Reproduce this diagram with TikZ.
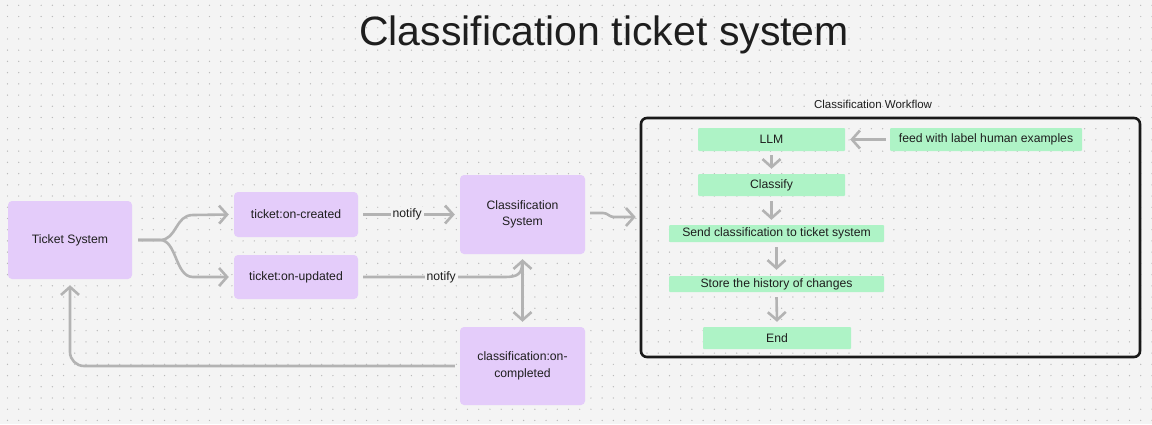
\documentclass[tikz,border=0pt]{standalone}
\usepackage{fontspec}
\setmainfont{Liberation Sans}
\usetikzlibrary{arrows.meta}
\definecolor{bgc}{HTML}{F4F4F4}
\definecolor{dotc}{HTML}{BABABA}
\definecolor{purp}{HTML}{E4CCFA}
\definecolor{grn}{HTML}{AEF3C6}
\definecolor{arrc}{HTML}{B3B3B3}
\definecolor{txt}{HTML}{1E1E1E}
\tikzset{
  pbox/.style={fill=purp, rounded corners=4pt, inner sep=0pt, text=txt, align=center,
    font=\fontsize{12.2}{16.5}\selectfont},
  gbox/.style={fill=grn, rounded corners=1pt, inner sep=0pt, text=txt, align=center,
    font=\fontsize{12.2}{14}\selectfont},
  tipx/.tip={Straight Barb[length=8pt,width=18pt]},
  arr/.style={draw=arrc, line width=2.6pt, -tipx},
  darr/.style={draw=arrc, line width=2.6pt, tipx-tipx},
  plain/.style={draw=arrc, line width=2.6pt},
  lbl/.style={fill=bgc, inner sep=2pt, text=txt, font=\fontsize{12.2}{14}\selectfont},
}
\begin{document}
\begin{tikzpicture}[x=1pt,y=-1pt]
\useasboundingbox (0,0) rectangle (1152,424);
\fill[bgc] (0,0) rectangle (1152,424);
\foreach \i in {0,...,102} {
  \foreach \j in {0,...,37} {
    \fill[dotc] ({7.5+11.22*\i},{5.3+11.22*\j}) circle (0.7);
  }
}
% title
\node[anchor=base, text=txt, font=\fontsize{41}{48}\selectfont, inner sep=0pt] (title) at (604,45) {Classification ticket system};

% left nodes
\node[pbox, minimum width=124pt, minimum height=78pt] (ts) at (70,240) {Ticket System};
\node[pbox, minimum width=124pt, minimum height=45pt] (oc) at (296,214.5) {ticket:on-created};
\node[pbox, minimum width=124pt, minimum height=44pt] (ou) at (296,277) {ticket:on-updated};
\node[pbox, minimum width=125pt, minimum height=79pt] (cs) at (522.5,214.5) {Classification\\System};
\node[pbox, minimum width=125pt, minimum height=78pt] (cc) at (522.5,366) {classification:on-\\completed};

% workflow frame
\node[draw=black!90, line width=2.6pt, rounded corners=6pt, minimum width=499pt, minimum height=239pt, inner sep=0pt] (wf) at (890.5,237.5) {};
\node[text=txt, font=\fontsize{11.5}{13}\selectfont, inner sep=0pt] (wfl) at (873,104) {Classification Workflow};

\node[gbox, minimum width=147pt, minimum height=23pt] (llm) at (771.5,139.5) {LLM};
\node[gbox, minimum width=192pt, minimum height=23pt] (feed) at (986,139.5) {feed with label human examples};
\node[gbox, minimum width=147pt, minimum height=22pt] (cl) at (771.5,185) {Classify};
\node[gbox, minimum width=215pt, minimum height=17pt] (snd) at (776.5,233.5) {Send classification to ticket system};
\node[gbox, minimum width=215pt, minimum height=16pt] (st) at (776.5,284) {Store the history of changes};
\node[gbox, minimum width=148pt, minimum height=22pt] (en) at (777,338) {End};

% fork from Ticket System
\coordinate (fk) at (160,240);
\draw[arr] ([xshift=6pt]ts.east) -- (fk) .. controls (177,240) and (175,215) .. (193,215) -- ([xshift=-5pt]oc.west);
\draw[arr] ([xshift=6pt]ts.east) -- (fk) .. controls (177,240) and (175,277) .. (193,277) -- ([xshift=-5pt]ou.west);

% notify arrows
\draw[arr] ([xshift=5pt]oc.east) -- node[lbl, pos=0.48] (n1) {notify} ([xshift=-5pt]cs.west);
\coordinate (mg) at (505,277);
\draw[plain] ([xshift=5pt]ou.east) -- node[lbl, pos=0.55] (n2) {notify} (mg) .. controls (517,277) and (522,274) .. (522,264);
\draw[darr] ([yshift=-5pt]cs.south) -- ([yshift=5pt]cc.north);

% back to Ticket System
\coordinate (bc) at (70,366);
\draw[arr, rounded corners=14pt] ([xshift=-5pt]cc.west) -- (bc) -- ([yshift=-6pt]ts.south);

% classification system -> workflow
\coordinate (j1) at (603,213);
\coordinate (j2) at (614,217);
\draw[arr] ([xshift=5pt]cs.east |- 0,213) -- (j1) .. controls (608,213) and (609,217) .. (j2) -- ([xshift=-4pt]wf.west |- 0,217);

% workflow arrows
\draw[arr] ([yshift=-4pt]llm.south) -- ([yshift=5pt]cl.north);
\draw[arr] ([yshift=-5pt]cl.south) -- ([yshift=5pt]snd.north -| cl.south);
\draw[arr] ([yshift=-5pt]snd.south) -- ([yshift=6pt]st.north);
\draw[arr] ([yshift=-5pt]st.south) -- ([yshift=5pt]en.north);
\draw[arr] ([xshift=-4pt]feed.west) -- ([xshift=5pt]llm.east);
\end{tikzpicture}
\end{document}
